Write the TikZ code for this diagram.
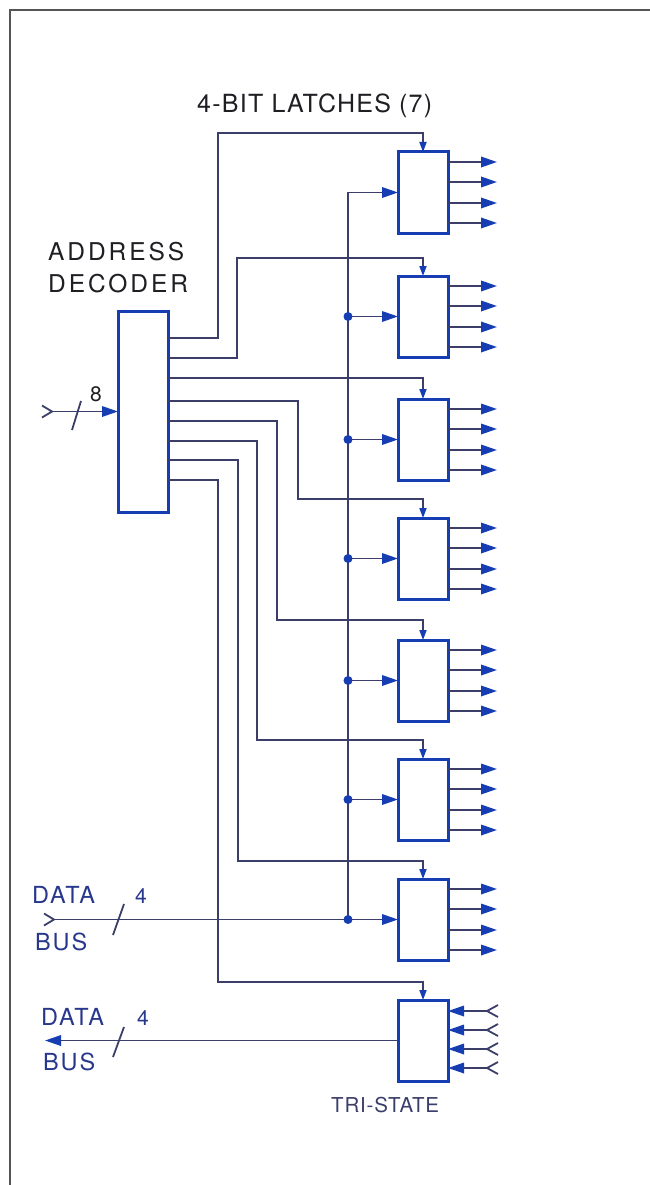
\documentclass[tikz,border=0pt]{standalone}
\usepackage{fontspec}
\setmainfont{TeX Gyre Heros}
\usetikzlibrary{arrows.meta,calc}
\definecolor{boxblue}{RGB}{22,62,178}
\definecolor{wirec}{RGB}{58,62,105}
\definecolor{framec}{RGB}{85,85,85}
\definecolor{txt}{RGB}{30,30,35}
\definecolor{bustxt}{RGB}{38,55,140}
\begin{document}
\begin{tikzpicture}[x=1pt,y=-1pt,
  blk/.style={draw=boxblue,line width=3pt,fill=white,minimum width=50pt,minimum height=81pt,inner sep=0pt,outer sep=0pt},
  wire/.style={draw=wirec,line width=1.8pt},
  tipbig/.style={-{Triangle[length=16pt,width=10.5pt,color=boxblue]}},
  tipsmall/.style={-{Triangle[length=10pt,width=7pt,color=boxblue]}},
  jdot/.style={circle,fill=boxblue,inner sep=0pt,minimum size=9pt},
  ttl/.style={anchor=base west,inner sep=0pt,text=txt,font=\fontsize{25}{25}\selectfont\addfontfeature{LetterSpace=5}},
  dtxt/.style={anchor=base west,inner sep=0pt,text=txt,font=\fontsize{24.5}{25}\selectfont\addfontfeature{LetterSpace=12}},
  bustx/.style={anchor=base west,inner sep=0pt,text=bustxt,font=\fontsize{23.5}{23}\selectfont\addfontfeature{LetterSpace=8}},
  numtx/.style={anchor=base west,inner sep=0pt,text=bustxt,font=\fontsize{21}{21}\selectfont},
  tritx/.style={anchor=base west,inner sep=0pt,text=wirec,font=\fontsize{20.5}{21}\selectfont\addfontfeature{LetterSpace=4}}
]
\useasboundingbox (0,0) rectangle (649,1185);
% frame
\draw[draw=framec,line width=2.2pt] (10,1190) -- (10,10) -- (655,10);

% blocks
\node[blk,minimum height=201pt] (dec) at (143,411.5) {};
\foreach \i/\t in {1/152,2/276,3/399,4/518,5/640,6/759,7/879}
  \node[blk] (L\i) at (423,\t+40.5) {};
\node[blk] (T) at (423,1040.5) {};

% decoder strobes
\draw[wire,tipsmall] ($(dec.north east)+(0,27)$) -| (218,133) -| (L1.north);
\draw[wire,tipsmall] ($(dec.north east)+(0,47)$) -| (237,258) -| (L2.north);
\draw[wire,tipsmall] ($(dec.north east)+(0,67)$) -| (L3.north);
\draw[wire,tipsmall] ($(dec.north east)+(0,90)$) -| (298,499) -| (L4.north);
\draw[wire,tipsmall] ($(dec.north east)+(0,110)$) -| (277,620) -| (L5.north);
\draw[wire,tipsmall] ($(dec.north east)+(0,130)$) -| (257,740) -| (L6.north);
\draw[wire,tipsmall] ($(dec.north east)+(0,149)$) -| (238,861) -| (L7.north);
\draw[wire,tipsmall] ($(dec.north east)+(0,169)$) -| (218,982) -| (T.north);

% address input
\coordinate (ain) at (52,411.5);
\draw[wire,tipbig] (ain) -- (dec.west);
\draw[wire] (42,405.5) -- (ain) -- (42,417.5);
\draw[wire] (72,430) -- (81,401);

% data bus in
\coordinate (bus) at (348,0);
\coordinate (din) at (54,919.5);
\draw[wire,tipbig] (din) -- (L7.west);
\draw[wire] (44,913.5) -- (din) -- (44,925.5);
\draw[wire] (113,935) -- (124,904);
\draw[wire,tipbig] (L7.west -| bus) |- (L1.west);
\foreach \i in {2,...,6}
  \draw[wire,tipbig] (L\i.west -| bus) -- (L\i.west);
\foreach \i in {2,...,7}
  \node[jdot] (d\i) at (L\i.west -| bus) {};

% latch outputs
\foreach \n in {L1,L2,L3,L4,L5,L6,L7}
  \foreach \o in {10,30,51,71}
    \draw[wire,tipbig] ($(\n.north east)+(0,\o)$) -- ++(49,0);

% tri-state inputs
\foreach \o in {11,30,49,68} {
  \draw[wire,tipbig] ($(T.north east)+(39,\o)$) -- ($(T.north east)+(0,\o)$);
  \draw[wire] ($(T.north east)+(50,\o-6)$) -- ++(-11,6) -- ++(11,6);
}

% data bus out
\coordinate (dout) at (45,1040.5);
\draw[wire,tipbig] (T.west) -- (dout);
\draw[wire] (113,1057) -- (124,1027);

% labels
\node[ttl] (tlat) at (197,113) {4-BIT LATCHES (7)};
\node[dtxt] (tadd) at (48,260) {ADDRESS};
\node[dtxt] (tdecd) at (48,292) {DECODER};
\node[numtx,text=txt] (t8) at (90,401) {8};
\node[bustx] (tdata1) at (32,903) {DATA};
\node[bustx] (tbus1) at (35,950) {BUS};
\node[numtx] (t41) at (135,903) {4};
\node[bustx] (tdata2) at (41,1025) {DATA};
\node[bustx] (tbus2) at (43,1070) {BUS};
\node[numtx] (t42) at (137,1025) {4};
\node[tritx] (ttri) at (331,1112) {TRI-STATE};
\end{tikzpicture}
\end{document}
